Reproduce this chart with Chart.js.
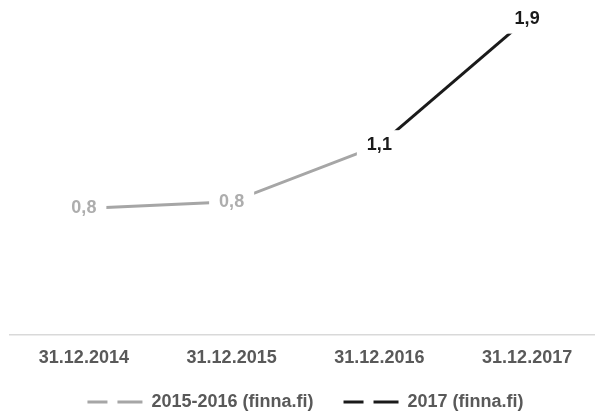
<!DOCTYPE html>
<html>
<head>
<meta charset="utf-8">
<script src="https://cdn.jsdelivr.net/npm/chart.js@4.4.1/dist/chart.umd.min.js"></script>
<style>
  html, body { margin: 0; padding: 0; background: #fff; overflow: hidden; }
  #wrap { width: 601px; height: 421px; }
</style>
</head>
<body>
<div id="wrap"><canvas id="chart" width="601" height="421"></canvas></div>
<script>
const categories = ['31.12.2014', '31.12.2015', '31.12.2016', '31.12.2017'];
const series2015 = [0.76, 0.80, 1.14, null];
const series2017 = [null, null, 1.14, 1.90];
const seriesNames = ['2015-2016 (finna.fi)', '2017 (finna.fi)'];
// which points get a value label (the 2016 point is labelled by the 2017 series)
const labels2015 = [true, true, false, false];
const labels2017 = [false, false, true, true];

const FONT = '"Liberation Sans", Arial, Helvetica, sans-serif';
const grey = '#a6a6a6';
const black = '#1a1a1a';

function fmt(v) {
    return v.toFixed(1).replace('.', ',');
}

// value labels sitting on the points, with a white box that cuts the line
const valueLabels = {
    id: 'valueLabels',
    afterDatasetsDraw(chart) {
        const ctx = chart.ctx;
        ctx.save();
        ctx.font = 'bold 18px ' + FONT;
        ctx.textAlign = 'center';
        ctx.textBaseline = 'middle';
        chart.data.datasets.forEach((ds, i) => {
            const meta = chart.getDatasetMeta(i);
            meta.data.forEach((pt, j) => {
                const v = ds.data[j];
                if (v == null || !ds.showLabel[j]) return;
                const txt = fmt(v);
                const w = ctx.measureText(txt).width;
                ctx.fillStyle = '#fff';
                ctx.fillRect(pt.x - w / 2 - 10, pt.y - 15, w + 20, 30);
                ctx.fillStyle = ds.labelColor;
                ctx.fillText(txt, pt.x, pt.y);
            });
        });
        ctx.restore();
    }
};

new Chart(document.getElementById('chart'), {
    type: 'line',
    data: {
        labels: categories,
        datasets: [
            {
                label: seriesNames[0],
                data: series2015,
                borderColor: grey,
                backgroundColor: grey,
                borderWidth: 3,
                pointRadius: 0,
                tension: 0,
                spanGaps: false,
                showLabel: labels2015,
                labelColor: '#adadad'
            },
            {
                label: seriesNames[1],
                data: series2017,
                borderColor: black,
                backgroundColor: black,
                borderWidth: 3,
                pointRadius: 0,
                tension: 0,
                spanGaps: false,
                showLabel: labels2017,
                labelColor: black
            }
        ]
    },
    options: {
        responsive: false,
        animation: false,
        layout: { padding: { top: 2, left: 10, right: 0, bottom: 0 } },
        scales: {
            x: {
                offset: true,
                grid: { display: false, drawTicks: false },
                border: { display: true, color: '#d9d9d9', width: 1.5 },
                ticks: {
                    color: '#595959',
                    padding: 12,
                    font: { family: FONT, size: 18, weight: 'bold' }
                },
                afterFit: (scale) => { scale.height = 28; }
            },
            y: {
                display: false,
                min: 0,
                max: 2.0
            }
        },
        plugins: {
            tooltip: { enabled: false },
            legend: {
                position: 'bottom',
                labels: {
                    color: '#595959',
                    padding: 30,
                    usePointStyle: true,
                    pointStyleWidth: 55,
                    font: { family: FONT, size: 18, weight: 'bold' },
                    generateLabels: (chart) => {
                        const items = Chart.defaults.plugins.legend.labels.generateLabels(chart);
                        items.forEach(it => {
                            it.pointStyle = 'line';
                            it.lineDash = [20, 10, 25];
                            it.lineWidth = 3;
                        });
                        return items;
                    }
                }
            }
        }
    },
    plugins: [valueLabels]
});
</script>
</body>
</html>
